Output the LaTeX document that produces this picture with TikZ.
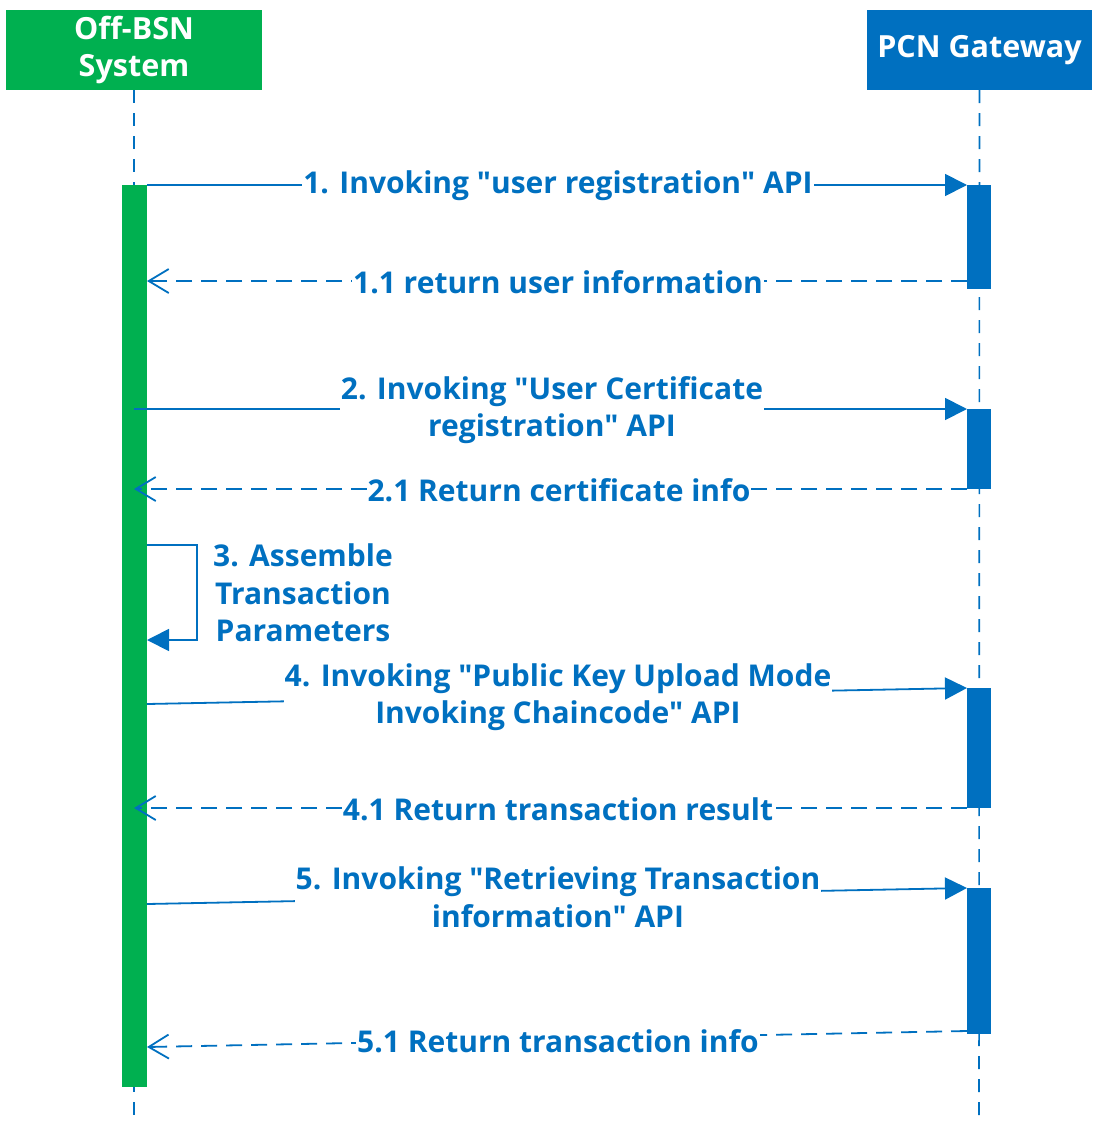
\documentclass[tikz,border=0pt]{standalone}
\usepackage{fontspec}
\setmainfont{Open Sans}
\usetikzlibrary{arrows.meta}
\definecolor{gblue}{HTML}{0070C0}
\definecolor{ggreen}{HTML}{00B050}
\newcommand{\qq}{\textquotedbl}
\begin{document}
\begin{tikzpicture}[x=1pt,y=-1pt,
  every node/.style={inner sep=0pt,outer sep=0pt},
  head/.style={minimum width=#1,minimum height=80pt,text=white,font=\fontsize{30.5}{37}\selectfont\bfseries,align=center},
  lifeline/.style={gblue,line width=1.6pt,dash pattern=on 13pt off 10pt},
  msg/.style={gblue,line width=1.8pt,-{Triangle[length=22pt,width=22pt]}},
  ret/.style={gblue,line width=1.8pt,dash pattern=on 16pt off 9pt,-{Straight Barb[length=20pt,width=24pt,line width=1.8pt]}},
  lbl/.style={fill=white,text=gblue,font=\fontsize{30}{37.5}\selectfont\bfseries,align=center,inner xsep=1pt,inner ysep=2pt}
]
\useasboundingbox (0,0) rectangle (1098,1146);
% heads
\node[head=256pt,fill=ggreen] (hA) at (134,50) {Off-BSN\\System};
\node[head=225pt,fill=gblue] (hB) at (979.5,50) {PCN Gateway};
\coordinate (eA) at (134,1120);
\coordinate (eB) at (979,1120);
\draw[lifeline] (hA.south) -- (eA);
\draw[lifeline] (hB.south) -- (eB);
% activation bars
\fill[ggreen] (122,185) rectangle (147,1087);
\fill[gblue] (967,185) rectangle (991,289);
\fill[gblue] (967,409) rectangle (991,489);
\fill[gblue] (967,688) rectangle (991,808);
\fill[gblue] (967,888) rectangle (991,1034);
% coordinates
\coordinate (a1) at (147,185); \coordinate (b1) at (967,185);
\coordinate (b11) at (967,281); \coordinate (a11) at (147,281);
\coordinate (a2) at (134,409); \coordinate (b2) at (967,409);
\coordinate (b21) at (967,489); \coordinate (a21) at (134,489);
\coordinate (a3) at (147,545); \coordinate (c3) at (197,545); \coordinate (d3) at (197,640); \coordinate (e3) at (147,640);
\coordinate (a4) at (147,704); \coordinate (b4) at (967,688);
\coordinate (b41) at (967,808); \coordinate (a41) at (134,808);
\coordinate (a5) at (147,904); \coordinate (b5) at (967,888);
\coordinate (b51) at (967,1031); \coordinate (a51) at (147,1047);
% messages
\draw[msg] (a1) -- (b1);
\node[lbl] (l1) at (558,186) {1. Invoking \qq user registration\qq{} API};
\draw[ret] (b11) -- (a11);
\node[lbl] (l11) at (558,282) {1.1 return user information};
\draw[msg] (a2) -- (b2);
\node[lbl] (l2) at (552,410) {2. Invoking \qq User Certificate\\registration\qq{} API};
\draw[ret] (b21) -- (a21);
\node[lbl] (l21) at (559,490) {2.1 Return certificate info};
\draw[msg] (a3) -- (c3) -- (d3) -- (e3);
\node[lbl,fill=none,align=center] (l3) at (303,593) {3. Assemble\\Transaction\\Parameters};
\draw[msg] (a4) -- (b4);
\node[lbl] (l4) at (558,697) {4. Invoking \qq Public Key Upload Mode\\Invoking Chaincode\qq{} API};
\draw[ret] (b41) -- (a41);
\node[lbl] (l41) at (558,809) {4.1 Return transaction result};
\draw[msg] (a5) -- (b5);
\node[lbl] (l5) at (558,897) {5. Invoking \qq Retrieving Transaction\\information\qq{} API};
\draw[ret] (b51) -- (a51);
\node[lbl] (l51) at (558,1041) {5.1 Return transaction info};
\end{tikzpicture}
\end{document}
